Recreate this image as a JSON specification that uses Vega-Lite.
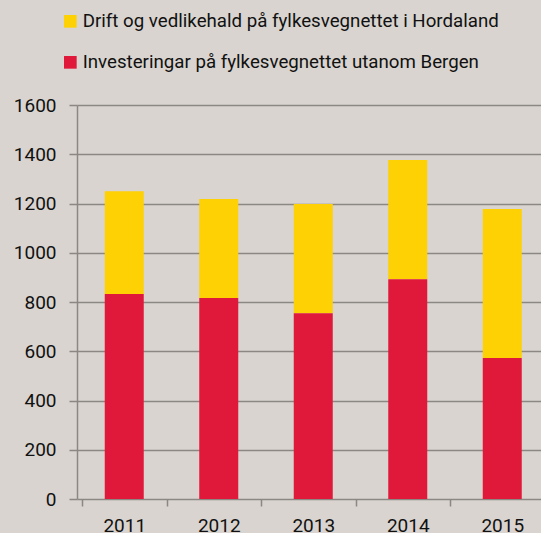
{
  "$schema": "https://vega.github.io/schema/vega-lite/v6.json",
  "autosize": "none",
  "padding": {"left": 77, "top": 105, "right": 0, "bottom": 34},
  "width": 472.5,
  "height": 394,
  "background": "#d9d4cf",
  "data": {
    "values": [
      {"year": "2011", "serie": "Drift og vedlikehald på fylkesvegnettet i Hordaland", "value": 418},
      {"year": "2011", "serie": "Investeringar på fylkesvegnettet utanom Bergen", "value": 832},
      {"year": "2012", "serie": "Drift og vedlikehald på fylkesvegnettet i Hordaland", "value": 402},
      {"year": "2012", "serie": "Investeringar på fylkesvegnettet utanom Bergen", "value": 816},
      {"year": "2013", "serie": "Drift og vedlikehald på fylkesvegnettet i Hordaland", "value": 444},
      {"year": "2013", "serie": "Investeringar på fylkesvegnettet utanom Bergen", "value": 754},
      {"year": "2014", "serie": "Drift og vedlikehald på fylkesvegnettet i Hordaland", "value": 485},
      {"year": "2014", "serie": "Investeringar på fylkesvegnettet utanom Bergen", "value": 892},
      {"year": "2015", "serie": "Drift og vedlikehald på fylkesvegnettet i Hordaland", "value": 605},
      {"year": "2015", "serie": "Investeringar på fylkesvegnettet utanom Bergen", "value": 573}
    ]
  },
  "mark": {"type": "bar", "width": 39},
  "encoding": {
    "x": {
      "field": "year", "type": "ordinal", "title": null,
      "axis": {
        "labelAngle": 0, "labelFont": "Roboto", "labelFontSize": 19, "labelColor": "#111",
        "domain": false, "ticks": true, "tickBand": "extent", "tickColor": "#8c8782",
        "tickWidth": 1.5, "tickSize": 7, "labelPadding": 10
      }
    },
    "y": {
      "field": "value", "type": "quantitative", "stack": "zero", "title": null,
      "scale": {"domain": [0, 1600]},
      "axis": {
        "values": [0, 200, 400, 600, 800, 1000, 1200, 1400, 1600], "format": "d",
        "labelFont": "Roboto", "labelFontSize": 19, "labelColor": "#111",
        "domainColor": "#8c8782", "domainWidth": 1.5,
        "gridColor": "#8c8782", "gridWidth": 1.5, "gridOpacity": 1,
        "tickColor": "#8c8782", "tickWidth": 1.5, "tickSize": 8, "labelPadding": 13
      }
    },
    "color": {
      "field": "serie", "type": "nominal",
      "scale": {
        "domain": ["Drift og vedlikehald på fylkesvegnettet i Hordaland", "Investeringar på fylkesvegnettet utanom Bergen"],
        "range": ["#fed105", "#e0193b"]
      },
      "legend": {
        "title": null, "orient": "none", "legendX": -16, "legendY": -93,
        "direction": "vertical", "symbolType": "square", "symbolSize": 160,
        "symbolStrokeWidth": 0, "symbolOpacity": 1,
        "labelFont": "Roboto", "labelFontSize": 18.7, "labelColor": "#111",
        "labelOffset": 3, "rowPadding": 21, "labelLimit": 600
      }
    },
    "order": {"field": "serie", "sort": "descending"}
  },
  "config": {"view": {"stroke": null}}
}
